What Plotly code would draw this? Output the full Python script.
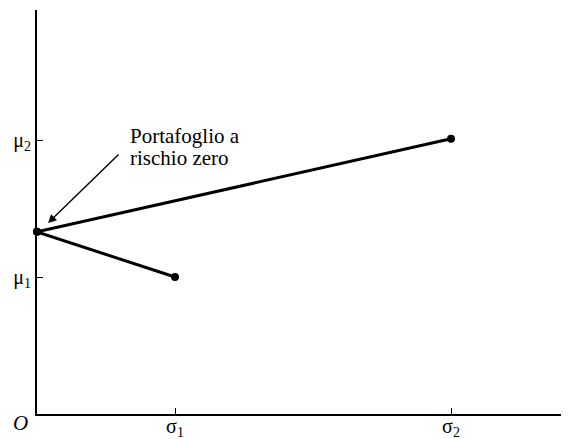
import plotly.graph_objects as go

# Data (in units of sigma_1 / mu_1)
sigma_ticks = [1, 3]
sigma_labels = ["σ<sub>1</sub>", "σ<sub>2</sub>"]
mu_ticks = [1, 2]
mu_labels = ["μ<sub>1</sub>", "μ<sub>2</sub>"]

zero_risk = (0.0, 1.33)
asset1 = (1.0, 1.0)
asset2 = (3.0, 2.01)

upper_x = [zero_risk[0], asset2[0]]
upper_y = [zero_risk[1], asset2[1]]
lower_x = [zero_risk[0], asset1[0]]
lower_y = [zero_risk[1], asset1[1]]

label_lines = ["Portafoglio a", "rischio zero"]

FONT = "Liberation Serif, Times New Roman, serif"

fig = go.Figure()
for xs, ys in [(upper_x, upper_y), (lower_x, lower_y)]:
    fig.add_trace(go.Scatter(
        x=xs, y=ys, mode="lines+markers",
        line=dict(color="black", width=3),
        marker=dict(color="black", size=8),
        showlegend=False, hoverinfo="skip", cliponaxis=False,
    ))

annotations = [
    dict(x=0.08, y=1.394, xref="x", yref="y", text="",
         showarrow=True, ax=72, ay=-70, arrowhead=2, arrowsize=1.2,
         arrowwidth=1.4, arrowcolor="black"),
    dict(x=0, y=0, xref="x", yref="y", text="<i>O</i>", showarrow=False,
         xshift=-17, yshift=-9, font=dict(family=FONT, size=21)),
]
line_y = [2.03, 1.87]
for txt, yy in zip(label_lines, line_y):
    annotations.append(dict(
        x=0.66, y=yy, xref="x", yref="y", text=txt, showarrow=False,
        xanchor="left", yanchor="middle", align="left",
        font=dict(family=FONT, size=21)))

# page body has an 8px margin: compensate so the plot sits where the reference does
fig.update_layout(
    width=561, height=431,
    margin=dict(l=29, r=0, t=2, b=25),
    paper_bgcolor="white", plot_bgcolor="white",
    font=dict(family=FONT, color="black", size=20),
    xaxis=dict(
        range=[0, 3.855], showgrid=False, zeroline=False, automargin=False,
        showline=True, linecolor="black", linewidth=2,
        ticks="inside", ticklen=6, tickwidth=1.2, tickcolor="black",
        tickvals=sigma_ticks, ticktext=sigma_labels,
        tickfont=dict(family=FONT, size=20), ticklabelstandoff=-7,
    ),
    yaxis=dict(
        range=[0, 2.95], showgrid=False, zeroline=False, automargin=False,
        showline=True, linecolor="black", linewidth=2,
        ticks="inside", ticklen=6, tickwidth=1.2, tickcolor="black",
        tickvals=mu_ticks, ticktext=mu_labels,
        tickfont=dict(family=FONT, size=20),
    ),
    annotations=annotations,
)

fig.write_html("out.html")
